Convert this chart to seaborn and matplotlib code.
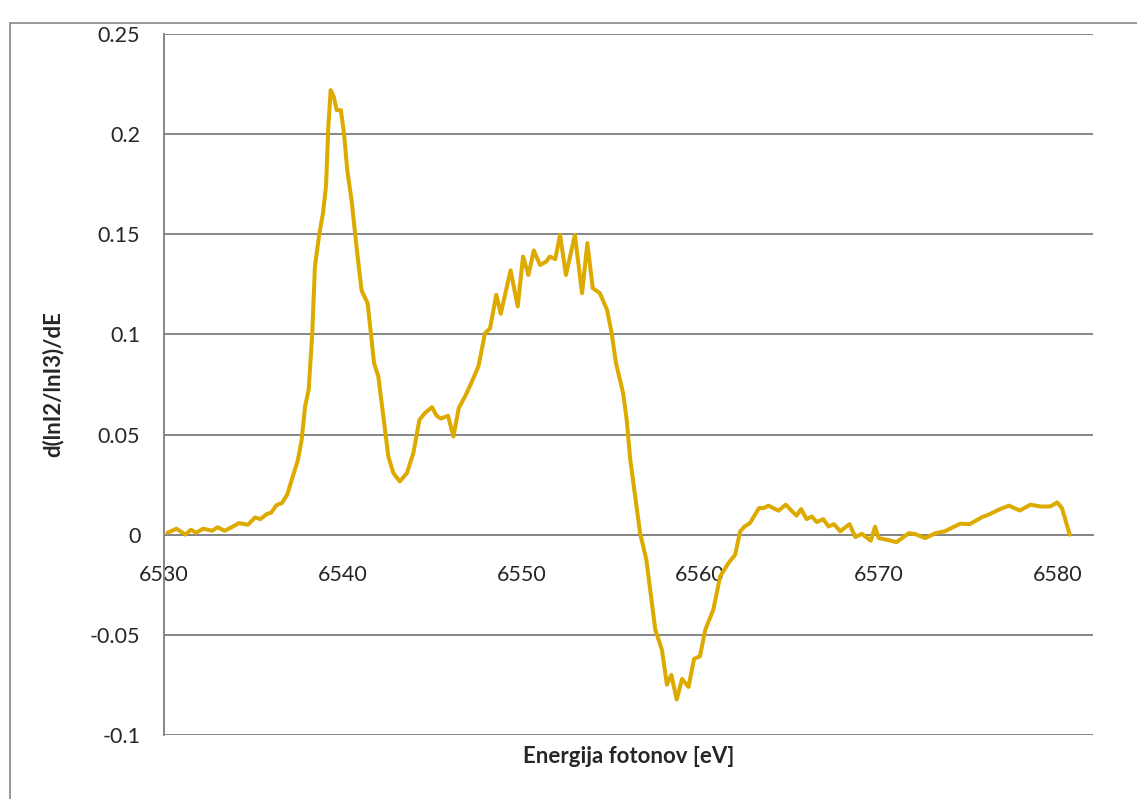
import matplotlib
matplotlib.use("Agg")
import matplotlib.pyplot as plt
import matplotlib.patches as patches
import pandas as pd
import seaborn as sns

# --- podatki, odčitani z grafa ---
energija = [
    6530.2, 6530.7, 6531.2, 6531.5, 6531.8, 6532.2, 6532.7, 6533.0, 6533.4, 6533.8,
    6534.2, 6534.7, 6535.1, 6535.4, 6535.75, 6536.0, 6536.3, 6536.6, 6536.9, 6537.15,
    6537.5, 6537.7, 6537.9, 6538.1, 6538.3, 6538.45, 6538.7, 6538.9, 6539.07, 6539.2,
    6539.33, 6539.5, 6539.67, 6539.9, 6540.08, 6540.26, 6540.5, 6540.8, 6541.06, 6541.4,
    6541.6, 6541.76, 6542.0, 6542.3, 6542.56, 6542.84, 6543.2, 6543.6, 6543.96, 6544.3,
    6544.6, 6545.0, 6545.26, 6545.5, 6545.9, 6546.2, 6546.5, 6546.85, 6547.2, 6547.6,
    6547.97, 6548.25, 6548.6, 6548.85, 6549.4, 6549.8, 6550.1, 6550.4, 6550.7, 6551.05,
    6551.4, 6551.6, 6551.9, 6552.17, 6552.5, 6553.0, 6553.4, 6553.7, 6554.0, 6554.4,
    6554.8, 6555.06, 6555.3, 6555.7, 6555.9, 6556.1, 6556.65, 6557.0, 6557.5, 6557.87,
    6558.15, 6558.4, 6558.7, 6559.0, 6559.36, 6559.67, 6560.0, 6560.3, 6560.75, 6561.13,
    6561.6, 6561.97, 6562.25, 6562.5, 6562.8, 6563.3, 6563.56, 6563.84, 6564.4, 6564.8,
    6565.4, 6565.66, 6565.97, 6566.26, 6566.54, 6566.9, 6567.2, 6567.5, 6567.85, 6568.37,
    6568.7, 6569.06, 6569.56, 6569.8, 6570.0, 6570.46, 6571.0, 6571.7, 6572.05, 6572.6,
    6573.2, 6573.7, 6574.57, 6575.1, 6575.8, 6576.15, 6576.8, 6577.3, 6577.9, 6578.5,
    6579.05, 6579.6, 6580.0, 6580.26, 6580.7,
]
odvod = [
    0.001, 0.003, 0.0, 0.0025, 0.001, 0.003, 0.002, 0.0037, 0.002, 0.0038,
    0.0058, 0.005, 0.0086, 0.0078, 0.0103, 0.011, 0.0148, 0.0158, 0.020, 0.0274,
    0.0374, 0.047, 0.064, 0.0724, 0.1006, 0.134, 0.1505, 0.1605, 0.174, 0.2037,
    0.222, 0.2187, 0.212, 0.212, 0.2004, 0.182, 0.167, 0.142, 0.122, 0.1156,
    0.099, 0.0857, 0.079, 0.0574, 0.039, 0.0308, 0.0266, 0.0308, 0.0408, 0.0574,
    0.0607, 0.0637, 0.0594, 0.058, 0.0594, 0.049, 0.0632, 0.069, 0.0757, 0.084,
    0.1006, 0.103, 0.1198, 0.1103, 0.132, 0.114, 0.1389, 0.1297, 0.1419, 0.1347,
    0.1364, 0.1389, 0.1376, 0.1497, 0.1297, 0.1497, 0.1206, 0.1456, 0.1231, 0.1206,
    0.1123, 0.1006, 0.0857, 0.0707, 0.0574, 0.0374, 0.0008, -0.0125, -0.0474, -0.0574,
    -0.0749, -0.070, -0.0823, -0.072, -0.076, -0.062, -0.0607, -0.0474, -0.0374, -0.0208,
    -0.0141, -0.010, 0.0017, 0.0041, 0.0058, 0.0133, 0.0133, 0.0145, 0.012, 0.015,
    0.0095, 0.0128, 0.0078, 0.0091, 0.0063, 0.0078, 0.0041, 0.0053, 0.0017, 0.0053,
    -0.0012, 0.0005, -0.003, 0.004, -0.0017, -0.0025, -0.0037, 0.0008, 0.0003, -0.0017,
    0.0008, 0.0017, 0.0055, 0.0053, 0.0088, 0.010, 0.0128, 0.0145, 0.0121, 0.015,
    0.0141, 0.0141, 0.0161, 0.0133, 0.0,
]

x_ticks = [6530, 6540, 6550, 6560, 6570, 6580]
y_ticks = [-0.1, -0.05, 0, 0.05, 0.1, 0.15, 0.2, 0.25]
y_tick_labels = ["-0.1", "-0.05", "0", "0.05", "0.1", "0.15", "0.2", "0.25"]

df = pd.DataFrame({"E": energija, "d": odvod})

sns.set_style("white")
plt.rcParams["font.family"] = ["Lato", "DejaVu Sans"]

siva = "#868686"

fig = plt.figure(figsize=(11.37, 7.99), dpi=100)
ax = fig.add_axes([0.1442, 0.0801, 0.8171, 0.8773])

sns.lineplot(data=df, x="E", y="d", ax=ax, color="#DDAA00", linewidth=2.9,
             sort=False, estimator=None, zorder=4,
             solid_joinstyle="round", solid_capstyle="round")

ax.set_xlim(6530, 6582)
ax.set_ylim(-0.1, 0.25)
ax.set_yticks(y_ticks)
ax.set_yticklabels(y_tick_labels)
ax.set_xticks(x_ticks)
ax.set_xticklabels([str(t) for t in x_ticks])

# mreža
ax.yaxis.grid(True, color=siva, linewidth=1.4)
ax.xaxis.grid(False)
ax.set_axisbelow(True)

# osi
for s in ["top", "right"]:
    ax.spines[s].set_visible(False)
ax.spines["left"].set_color(siva)
ax.spines["left"].set_linewidth(1.4)
ax.spines["bottom"].set_position(("data", 0))
ax.spines["bottom"].set_color(siva)
ax.spines["bottom"].set_linewidth(1.4)

ax.tick_params(axis="both", which="major", labelsize=15.5, color=siva,
               length=5, width=1.4, direction="out")
ax.tick_params(axis="y", pad=12)
ax.tick_params(axis="x", pad=17)

ax.set_xlabel("Energija fotonov [eV]", fontsize=16, fontweight="bold", labelpad=0)
ax.xaxis.set_label_coords(0.5, -0.016)
ax.set_ylabel("d(lnI2/lnI3)/dE", fontsize=16, fontweight="bold")
ax.yaxis.set_label_coords(-0.108, 0.5)

# okvir grafikona
okvir = patches.Rectangle((0.0088, -0.02), 1.05, 0.0112 + 0.98,
                          transform=fig.transFigure, fill=False,
                          edgecolor=siva, linewidth=1.2, clip_on=False)
fig.patches.append(okvir)

fig.savefig("out.png", dpi=100)
